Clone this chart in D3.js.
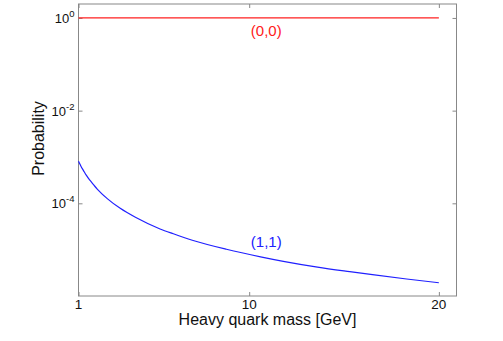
<!DOCTYPE html>
<html><head><meta charset="utf-8">
<script src="https://cdn.jsdelivr.net/npm/d3@7"></script>
<style>
body{margin:0;background:#fff;}
text{font-family:"Liberation Sans",Arial,Helvetica,sans-serif;}
</style></head>
<body><svg id="c" width="503" height="341"></svg>
<script>
const xTicks = [1, 10, 20];
const yTickExps = [0, -2, -4];
const massRed = [1, 20];
const probRed = [1, 1];
const massBlue = [1, 1.1, 1.2, 1.3, 1.4, 1.6, 1.8, 2, 2.5, 3.2, 4, 5.3, 6, 7, 8.8, 10.6, 11.8, 13.6, 15.3, 16.5, 18.3, 20];
const probBlue = [8.1e-4, 6.7e-4, 5.6e-4, 4.8e-4, 4.1e-4, 3.15e-4, 2.5e-4, 2.0e-4, 1.28e-4, 7.8e-5, 5.0e-5, 2.8e-5, 2.2e-5, 1.6e-5, 1.02e-5, 7.0e-6, 5.6e-6, 4.2e-6, 3.35e-6, 2.88e-6, 2.33e-6, 1.93e-6];
const labels = [{t:"(0,0)", m:10.9, p:1, dy:18, c:"#ff2020"},{t:"(1,1)", m:10.9, p:7.05e-6, dy:-10, c:"#2020ff"}];

const svg = d3.select("#c");
const L=78.5, R=456.5, T=4, B=296;
const x = d3.scaleLinear().domain([1, 20.93]).range([L, R]);
const y = d3.scaleLog().domain([1e-6, 2]).range([B, T]);
const axisCol = "#888";

svg.append("rect").attr("x",L).attr("y",T).attr("width",R-L).attr("height",B-T)
  .attr("fill","none").attr("stroke",axisCol).attr("stroke-width",1);

const yVals = yTickExps.map(e => Math.pow(10,e));
const gl = svg.append("g").attr("transform",`translate(${L},0)`)
  .call(d3.axisLeft(y).tickValues(yVals).tickSize(-4).tickFormat(""));
const gr = svg.append("g").attr("transform",`translate(${R},0)`)
  .call(d3.axisRight(y).tickValues(yVals).tickSize(-4).tickFormat(""));
const gb = svg.append("g").attr("transform",`translate(0,${B})`)
  .call(d3.axisBottom(x).tickValues(xTicks).tickSize(-4).tickFormat(""));
const gt = svg.append("g").attr("transform",`translate(0,${T})`)
  .call(d3.axisTop(x).tickValues(xTicks).tickSize(-4).tickFormat(""));
[gl,gr,gb,gt].forEach(g=>{g.select(".domain").remove(); g.selectAll("line").attr("stroke",axisCol);});

yTickExps.forEach(e=>{
  const t = svg.append("text").attr("x",L-4).attr("y",y(Math.pow(10,e))+5)
    .attr("text-anchor","end").attr("font-size",13).attr("fill","#111");
  t.append("tspan").text("10");
  t.append("tspan").attr("dy",-6).attr("font-size",9.5).text(String(e));
});
xTicks.forEach(v=>{
  svg.append("text").attr("x",x(v)).attr("y",B+13).attr("text-anchor","middle")
    .attr("font-size",13.5).attr("fill","#111").text(v);
});
svg.append("text").attr("x",267.5).attr("y",325).attr("text-anchor","middle")
  .attr("font-size",16).attr("fill","#111").text("Heavy quark mass [GeV]");
svg.append("text").attr("transform","translate(44,138.5) rotate(-90)").attr("text-anchor","middle")
  .attr("font-size",16).attr("fill","#111").text("Probability");

const line = d3.line().x(d=>x(d[0])).y(d=>y(d[1])).curve(d3.curveMonotoneX);
svg.append("path").datum(massRed.map((m,i)=>[m,probRed[i]])).attr("d",line)
  .attr("fill","none").attr("stroke","#ff2020").attr("stroke-width",1.2);
svg.append("path").datum(massBlue.map((m,i)=>[m,probBlue[i]])).attr("d",line)
  .attr("fill","none").attr("stroke","#2020ff").attr("stroke-width",1.2);

labels.forEach(l=>{
  svg.append("text").attr("x",x(l.m)).attr("y",y(l.p)+l.dy).attr("text-anchor","middle")
    .attr("font-size",15).attr("fill",l.c).text(l.t);
});
</script></body></html>
